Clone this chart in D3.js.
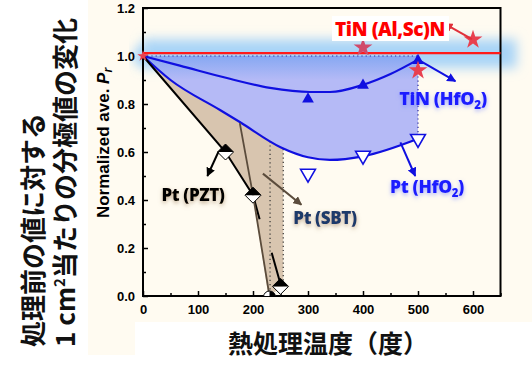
<!DOCTYPE html>
<html><head><meta charset="utf-8">
<script src="https://cdn.jsdelivr.net/npm/d3@7"></script>
<style>
html,body{margin:0;padding:0;background:#fff;}
svg{display:block;}
</style></head>
<body>
<svg id="c" width="532" height="366"></svg>
<script>
// ---- data ----
const xTicks = [0,100,200,300,400,500,600];
const xMinorTicks = [50,150,250,350,450,550,650];
const yTicks = [0,0.2,0.4,0.6,0.8,1.0,1.2];
const yMinorTicks = [0.1,0.3,0.5,0.7,0.9,1.1];

const tinAlScNLevel = 1.012;
const tinAlScNStarT = [0,400,500,600];
const tinAlScNStarV = [1.0,1.035,0.94,1.068];

const tinHfO2CurveT = [0,67,158,231,304,340,400,450,500];
const tinHfO2CurveV = [1.0,0.96,0.905,0.867,0.85,0.85,0.88,0.925,0.985];
const tinHfO2PointT = [300,400,500];
const tinHfO2PointV = [0.825,0.882,0.985];

const ptHfO2CurveT = [0,50,140,176,250,300,340,400,500];
const ptHfO2CurveV = [1.0,0.9,0.775,0.725,0.62,0.578,0.567,0.582,0.655];
const ptHfO2PointT = [300,400,500];
const ptHfO2PointV = [0.51,0.585,0.655];

const pztT = [0,150,200,250];
const pztV = [1.0,0.6,0.42,0.04];
const pztLineT = [0,150,200,212];
const pztLineV = [1.0,0.6,0.42,0.32];
const pztTailT = [234,250];
const pztTailV = [0.18,0.05];

const sbtLineT = [176,200,230];
const sbtLineV = [0.72,0.42,0.0];
const sbtPointT = [230];
const sbtPointV = [0.0];

const dropT = [231,255];
const dropTopV = [0.645,0.612];
const dropBottomV = [0.0,0.04];

const tanEdgeT = [255,228,200,150,0];
const tanEdgeV = [0.04,0.0,0.42,0.6,1.0];

// ---- scales ----
const svg = d3.select('#c');
const x = d3.scaleLinear().domain([0,650]).range([143,500.5]);
const y = d3.scaleLinear().domain([0,1.2]).range([296,8]);
const zip = (a,b)=>a.map((d,i)=>[d,b[i]]);

// backgrounds
svg.append('rect').attr('x',88).attr('y',0).attr('width',444).attr('height',355).attr('fill','#fffbf1');
svg.append('rect').attr('x',135).attr('y',322).attr('width',397).attr('height',44).attr('fill','#ffffff');

const defs = svg.append('defs');
defs.append('filter').attr('id','blur').attr('x','-20%').attr('y','-100%').attr('width','140%').attr('height','300%')
  .append('feGaussianBlur').attr('stdDeviation',6);
const glowF = defs.append('filter').attr('id','glow').attr('x','-20%').attr('y','-50%').attr('width','140%').attr('height','200%');
glowF.append('feGaussianBlur').attr('in','SourceAlpha').attr('stdDeviation',2.2).attr('result','b');
glowF.append('feOffset').attr('in','b').attr('dy',2).attr('result','o');
glowF.append('feFlood').attr('flood-color','#9a7a55').attr('flood-opacity',0.6);
glowF.append('feComposite').attr('in2','o').attr('operator','in').attr('result','s');
const fm = glowF.append('feMerge'); fm.append('feMergeNode').attr('in','s'); fm.append('feMergeNode').attr('in','SourceGraphic');
const glowB = defs.append('filter').attr('id','glowB').attr('x','-20%').attr('y','-50%').attr('width','140%').attr('height','200%');
glowB.append('feGaussianBlur').attr('in','SourceAlpha').attr('stdDeviation',2).attr('result','b');
glowB.append('feOffset').attr('in','b').attr('dy',1.5).attr('result','o');
glowB.append('feFlood').attr('flood-color','#6f7cff').attr('flood-opacity',0.6);
glowB.append('feComposite').attr('in2','o').attr('operator','in').attr('result','s');
const fm2 = glowB.append('feMerge'); fm2.append('feMergeNode').attr('in','s'); fm2.append('feMergeNode').attr('in','SourceGraphic');

const grad = defs.append('linearGradient').attr('id','bg')
  .attr('gradientUnits','userSpaceOnUse').attr('x1',0).attr('x2',0).attr('y1',y(1.0)).attr('y2',y(0.9));
grad.append('stop').attr('offset',0).attr('stop-color','#86a8f2');
grad.append('stop').attr('offset',1).attr('stop-color','#b5baf6');

function arrowMarker(id,color,size){
  defs.append('marker').attr('id',id).attr('viewBox','0 0 10 10').attr('refX',9).attr('refY',5)
    .attr('markerWidth',size).attr('markerHeight',size).attr('orient','auto-start-reverse')
    .attr('markerUnits','userSpaceOnUse')
    .append('path').attr('d','M0,0 L10,5 L0,10 z').attr('fill',color);
}
arrowMarker('aBlue','#1010e0',9);
arrowMarker('aBlack','#000',9);
arrowMarker('aBrown','#5b4c3c',9);
arrowMarker('aRed','#e0303a',9);

// glow band
svg.append('rect').attr('x',x(0)).attr('y',y(1.07)).attr('width',x(650)-x(0)+16).attr('height',y(0.95)-y(1.07))
  .attr('fill','#a8d4f7').attr('filter','url(#blur)');
svg.append('circle').attr('cx',x(0)).attr('cy',y(1.0)).attr('r',10).attr('fill','#a8d4f7').attr('filter','url(#blur)');

const line = d3.line().x(d=>x(d[0])).y(d=>y(d[1]));
const smooth = d3.line().x(d=>x(d[0])).y(d=>y(d[1])).curve(d3.curveMonotoneX);
const ptPts = zip(ptHfO2CurveT,ptHfO2CurveV);

// blue fill
svg.append('path').attr('d', smooth(ptPts) + 'L' + x(500) + ',' + y(1.0) + 'L' + x(0) + ',' + y(1.0) + 'Z')
  .attr('fill','url(#bg)');

// tan fill
const tanCurve = ptPts.filter(d=>d[0]<=250).concat([[255,0.612]]);
svg.append('path').attr('d', smooth(tanCurve) + line(zip(tanEdgeT,tanEdgeV)).replace('M','L') + 'Z')
  .attr('fill','#d8c5af');

// dotted lines
const dotted = svg.append('g').attr('stroke','#2a2a9a').attr('stroke-width',1.2).attr('stroke-dasharray','1.2,3').attr('fill','none');
dotted.append('path').attr('d', line([[0,1.0],[500,1.0]]));
dotted.append('path').attr('d', line([[500,tinHfO2PointV[2]],[500,ptHfO2PointV[2]]]));
const dottedK = svg.append('g').attr('stroke','#333').attr('stroke-width',1.2).attr('stroke-dasharray','1.2,3').attr('fill','none');
dropT.forEach((t,i)=>dottedK.append('path').attr('d', line([[t,dropTopV[i]],[t,dropBottomV[i]]])));

// axes frame
const axG = svg.append('g');
axG.append('rect').attr('x',x(0)).attr('y',y(1.2)).attr('width',x(650)-x(0)).attr('height',y(0)-y(1.2))
  .attr('fill','none').attr('stroke','#000').attr('stroke-width',2);
const xa = axG.append('g').attr('transform',`translate(0,${y(0)})`)
  .call(d3.axisBottom(x).tickValues(xTicks).tickSize(-5).tickPadding(9).tickFormat(d3.format('d')));
const xm = axG.append('g').attr('transform',`translate(0,${y(0)})`)
  .call(d3.axisBottom(x).tickValues(xMinorTicks).tickSize(-3).tickFormat(''));
const ya = axG.append('g').attr('transform',`translate(${x(0)},0)`)
  .call(d3.axisLeft(y).tickValues(yTicks).tickSize(-5).tickPadding(8).tickFormat(d3.format('.1f')));
const ym = axG.append('g').attr('transform',`translate(${x(0)},0)`)
  .call(d3.axisLeft(y).tickValues(yMinorTicks).tickSize(-3).tickFormat(''));
[xa,xm,ya,ym].forEach(g=>{g.select('.domain').remove(); g.selectAll('line').attr('stroke','#000').attr('stroke-width',1.5);});
[xa,ya].forEach(g=>g.selectAll('text').attr('font-family','Liberation Sans, Arial, sans-serif').attr('font-weight','bold').attr('font-size',13).attr('fill','#000'));

// curves
svg.append('path').attr('d', smooth(ptPts)).attr('fill','none').attr('stroke','#1010e0').attr('stroke-width',2.2);
svg.append('path').attr('d', smooth(zip(tinHfO2CurveT,tinHfO2CurveV))).attr('fill','none').attr('stroke','#1010e0').attr('stroke-width',2.2);
svg.append('path').attr('d', line(zip(pztLineT,pztLineV))).attr('fill','none').attr('stroke','#000').attr('stroke-width',2);
svg.append('path').attr('d', line(zip(pztTailT,pztTailV))).attr('fill','none').attr('stroke','#000').attr('stroke-width',2);
svg.append('path').attr('d', line(zip(sbtLineT,sbtLineV))).attr('fill','none').attr('stroke','#5b4c3c').attr('stroke-width',1.8);

// red line
svg.append('path').attr('d', line([[0,tinAlScNLevel],[650,tinAlScNLevel]])).attr('stroke','#ff1a1a').attr('stroke-width',2.2);

// SBT half circle at axis
const clip = defs.append('clipPath').attr('id','pc');
clip.append('rect').attr('x',x(0)).attr('y',y(1.2)).attr('width',x(650)-x(0)).attr('height',y(0)-y(1.2));
sbtPointT.forEach((t,i)=>{
  const g = svg.append('g').attr('clip-path','url(#pc)');
  g.append('circle').attr('cx',x(t)).attr('cy',y(sbtPointV[i])+1).attr('r',6).attr('fill','#fff').attr('stroke','#000').attr('stroke-width',1);
  g.append('path').attr('d',`M${x(t)},${y(sbtPointV[i])-5} A6,6 0 0 1 ${x(t)},${y(sbtPointV[i])+7}Z`).attr('fill','#000');
});

// PZT diamonds (half filled)
pztT.slice(1).forEach((t,i)=>{
  const cx=x(t), cy=y(pztV[i+1]), s=8;
  svg.append('path').attr('d',`M${cx-s},${cy}L${cx},${cy+s}L${cx+s},${cy}Z`).attr('fill','#fff');
  svg.append('path').attr('d',`M${cx-s},${cy}L${cx},${cy-s}L${cx+s},${cy}Z`).attr('fill','#000');
  svg.append('path').attr('d',`M${cx-s},${cy}L${cx},${cy-s}L${cx+s},${cy}L${cx},${cy+s}Z`).attr('fill','none').attr('stroke','#000').attr('stroke-width',1);
});

// triangles
tinHfO2PointT.forEach((t,i)=>{
  svg.append('path').attr('d', d3.symbol(d3.symbolTriangle,60)()).attr('transform',`translate(${x(t)},${y(tinHfO2PointV[i])+1})`).attr('fill','#1010e0');
});
ptHfO2PointT.forEach((t,i)=>{
  svg.append('path').attr('d', d3.symbol(d3.symbolTriangle,95)()).attr('transform',`translate(${x(t)},${y(ptHfO2PointV[i])}) rotate(180)`)
    .attr('fill','#fff').attr('stroke','#1010e0').attr('stroke-width',1.6);
});

// stars
tinAlScNStarT.forEach((t,i)=>{
  svg.append('path').attr('d', d3.symbol(d3.symbolStar, i===0?40:110)()).attr('transform',`translate(${x(t)},${y(tinAlScNStarV[i])})`)
    .attr('fill', i===1 ? '#d14a6a' : '#e8404f');
});

// arrows
const arrows = [
  {from:[500,0.985], to:[568,0.895], c:'#1010e0', m:'aBlue', w:2},
  {from:[468,0.64], to:[495,0.5], c:'#1010e0', m:'aBlue', w:2},
  {from:[137,0.6], to:[117,0.5], c:'#000', m:'aBlack', w:2},
  {from:[218,0.51], to:[288,0.38], c:'#5b4c3c', m:'aBrown', w:2},
  {from:[598,1.07], to:[548,1.135], c:'#e0303a', m:'aRed', w:2}
];
arrows.forEach(a=>{
  svg.append('path').attr('d', line([a.from,a.to])).attr('stroke',a.c).attr('stroke-width',a.w).attr('marker-end',`url(#${a.m})`);
});

// labels
svg.append('rect').attr('x',332).attr('y',16).attr('width',117).attr('height',25).attr('fill','#fff');
svg.append('text').attr('x',390).attr('y',36).attr('text-anchor','middle').attr('font-family','Open Sans, sans-serif')
  .attr('font-weight',800).attr('font-size',19).attr('letter-spacing',-0.4).attr('fill','#ff0000').text('TiN (Al,Sc)N');

function subLabel(tx,ty,main,sub,tail,color,filt,size){
  const t = svg.append('text').attr('x',tx).attr('y',ty).attr('text-anchor','middle').attr('font-family','Open Sans, sans-serif')
    .attr('font-weight',800).attr('font-size',size).attr('letter-spacing',-0.4).attr('fill',color).attr('filter',filt);
  t.append('tspan').text(main);
  if(sub){ t.append('tspan').attr('font-size',size*0.65).attr('dy',4).text(sub); t.append('tspan').attr('dy',-4).text(tail); }
  return t;
}
subLabel(443,105,'TiN (HfO','2',')','#1a1aff','url(#glowB)',18);
subLabel(427,193,'Pt (HfO','2',')','#1a1aff','url(#glowB)',17.5);
subLabel(193,201,'Pt (PZT)',null,null,'#000','url(#glow)',17);
subLabel(325,224,'Pt (SBT)',null,null,'#1f3a6b','url(#glow)',17);

// axis titles
svg.append('text').attr('transform',`translate(109,143) rotate(-90)`).attr('text-anchor','middle')
  .attr('font-family','Liberation Sans, Arial, sans-serif').attr('font-weight','bold').attr('font-size',17)
  .call(t=>{t.append('tspan').text('Normalized ave. '); t.append('tspan').attr('font-style','italic').text('P');
    t.append('tspan').attr('font-style','italic').attr('font-size',12).attr('dy',3).text('r');});

svg.append('text').attr('x',328).attr('y',353).attr('text-anchor','middle')
  .attr('font-family','Noto Sans CJK JP, sans-serif').attr('font-weight','bold').attr('font-size',25).attr('fill','#111')
  .text('熱処理温度（度）');

svg.append('text').attr('transform','translate(43,347) rotate(-90)').attr('text-anchor','start')
  .attr('font-family','Noto Sans CJK JP, sans-serif').attr('font-weight','bold').attr('font-size',26).attr('fill','#111')
  .text('処理前の値に対する');
svg.append('text').attr('transform','translate(75,347) rotate(-90)').attr('text-anchor','start')
  .attr('font-family','Noto Sans CJK JP, sans-serif').attr('font-weight','bold').attr('font-size',26).attr('fill','#111')
  .call(t=>{t.append('tspan').text('1 cm'); t.append('tspan').attr('font-size',15).attr('dy',-10).text('2');
     t.append('tspan').attr('dy',10).text('当たりの分極値の変化');});
</script>
</body></html>
